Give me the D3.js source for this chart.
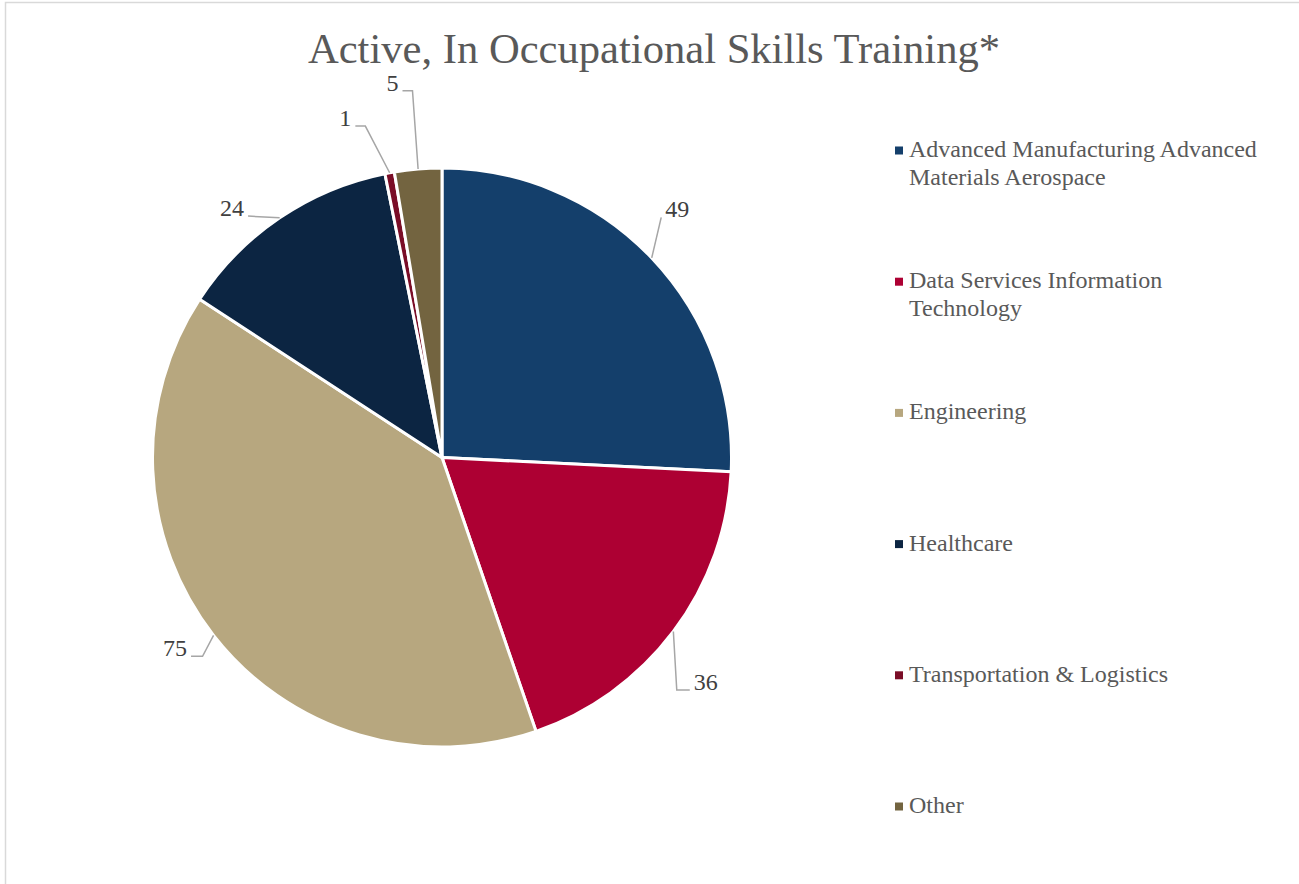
<!DOCTYPE html>
<html>
<head>
<meta charset="utf-8">
<script src="https://cdn.jsdelivr.net/npm/d3@7"></script>
<style>
  body { margin: 0; background: #fff; }
  svg text { font-family: "Liberation Serif", "Times New Roman", serif; }
</style>
</head>
<body>
<svg id="chart" width="1299" height="884"></svg>
<script>
// data
var categories = [
    'Advanced Manufacturing Advanced Materials Aerospace',
    'Data Services Information Technology',
    'Engineering',
    'Healthcare',
    'Transportation & Logistics',
    'Other'
];
var values = [49, 36, 75, 24, 1, 5];
var colors = ['#143f6b', '#ad0033', '#b7a77f', '#0c2542', '#7a0d27', '#736440'];

// legend text wrapped like the original
var legendLines = [
    ['Advanced Manufacturing Advanced', 'Materials Aerospace'],
    ['Data Services Information', 'Technology'],
    ['Engineering'],
    ['Healthcare'],
    ['Transportation & Logistics'],
    ['Other']
];

// leader line layout: elbow offset from slice edge, horizontal tail
var leader = [
    { dx: 9.5, dy: -40.5, tail: 0, side: 1 },
    { dx: 3.4, dy: 58.5, tail: 13, side: 1 },
    { dx: -11, dy: 21, tail: -11.5, side: -1 },
    { dx: -31.6, dy: -1.7, tail: 0, side: -1 },
    { dx: -24.3, dy: -46.7, tail: -10, side: -1 },
    { dx: -5.6, dy: -78.3, tail: -10, side: -1 }
];

var svg = d3.select('#chart'),
    width = +svg.attr('width'),
    height = +svg.attr('height');

// chart area border (only top/left visible)
svg.append('rect')
    .attr('x', 5.5)
    .attr('y', 2.5)
    .attr('width', 1400)
    .attr('height', 1000)
    .attr('fill', 'none')
    .attr('stroke', '#d9d9d9')
    .attr('stroke-width', 1.5);

svg.append('text')
    .attr('x', 654)
    .attr('y', 63)
    .attr('text-anchor', 'middle')
    .style('font-size', '42.6px')
    .style('fill', '#595959')
    .text('Active, In Occupational Skills Training*');

var cx = 442, cy = 457.5, radius = 289.5;
var g = svg.append('g').attr('transform', 'translate(' + cx + ',' + cy + ')');

var pie = d3.pie().sort(null);
var arc = d3.arc().innerRadius(0).outerRadius(radius);
var arcs = pie(values);

g.selectAll('path.slice')
    .data(arcs)
    .enter()
    .append('path')
    .attr('class', 'slice')
    .attr('d', arc)
    .attr('fill', function(d, i) { return colors[i]; })
    .attr('stroke', '#fff')
    .attr('stroke-width', 3)
    .attr('stroke-linejoin', 'round');

// data labels + leader lines
arcs.forEach(function(d, i) {
    var mid = (d.startAngle + d.endAngle) / 2;
    var x0 = Math.sin(mid) * radius,
        y0 = -Math.cos(mid) * radius;
    var L = leader[i];
    var x1 = x0 + L.dx, y1 = y0 + L.dy;
    var x2 = x1 + L.tail;
    g.append('polyline')
        .attr('points', [[x0, y0], [x1, y1], [x2, y1]].map(function(p) { return p.join(','); }).join(' '))
        .attr('fill', 'none')
        .attr('stroke', '#a6a6a6')
        .attr('stroke-width', 1.5);
    g.append('text')
        .attr('x', x2 + L.side * 4)
        .attr('y', y1)
        .attr('text-anchor', L.side > 0 ? 'start' : 'end')
        .style('font-size', '24px')
        .style('fill', '#404040')
        .text(d.value);
});

// legend
var legend = svg.append('g').attr('transform', 'translate(895,157)');
var rows = legend.selectAll('g')
    .data(categories)
    .enter()
    .append('g')
    .attr('transform', function(d, i) { return 'translate(0,' + (i * 131.2) + ')'; });

rows.append('rect')
    .attr('x', 0)
    .attr('y', -10.5)
    .attr('width', 8)
    .attr('height', 8)
    .attr('fill', function(d, i) { return colors[i]; });

rows.append('text')
    .attr('x', 14)
    .attr('y', 0)
    .style('font-size', '24px')
    .style('fill', '#595959')
    .each(function(d, i) {
        var t = d3.select(this);
        legendLines[i].forEach(function(line, j) {
            t.append('tspan')
                .attr('x', 14)
                .attr('dy', j === 0 ? 0 : 27.5)
                .text(line);
        });
    });
</script>
</body>
</html>
